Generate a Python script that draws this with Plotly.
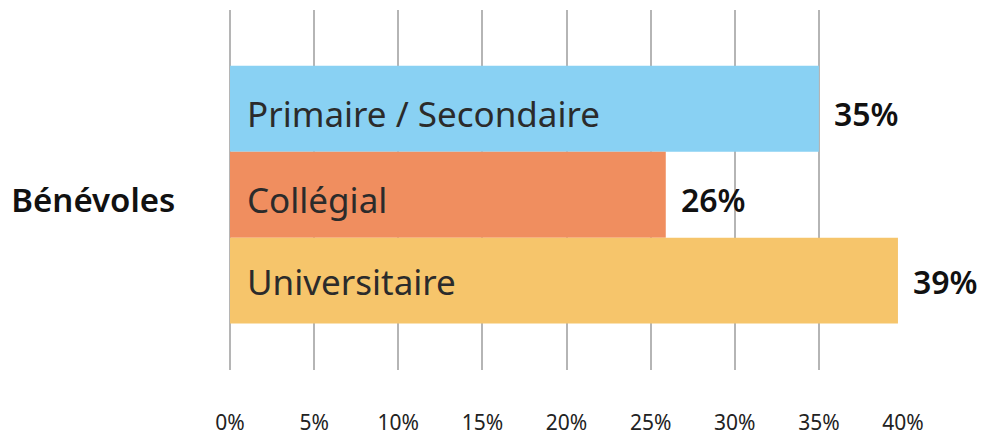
import plotly.graph_objects as go

categories = ["Primaire / Secondaire", "Collégial", "Universitaire"]
values = [35, 25.9, 39.7]
value_labels = ["35%", "26%", "39%"]
colors = ["#89D1F3", "#F08E5F", "#F6C56B"]
group_label = "Bénévoles"
positions = [2, 1, 0]
tick_vals = [0, 5, 10, 15, 20, 25, 30, 35, 40]
tick_text = ["0%", "5%", "10%", "15%", "20%", "25%", "30%", "35%", "40%"]

# small vertical nudges of the bar texts (pixels)
text_nudge = [-5, -5, -1]

font_family = "Noto Sans"

fig = go.Figure()
fig.add_trace(go.Bar(
    x=values, y=positions, orientation="h", width=1,
    marker=dict(color=colors, line=dict(width=0)),
    hoverinfo="skip",
))

for cat, val, lab, pos, dy in zip(categories, values, value_labels, positions, text_nudge):
    fig.add_annotation(x=0, y=pos, text=cat, showarrow=False, xanchor="left",
                       xshift=15, yshift=dy,
                       font=dict(family=font_family, size=35, color="#2B2B2B"))
    fig.add_annotation(x=val, y=pos, text=lab, showarrow=False, xanchor="left",
                       xshift=13, yshift=dy,
                       font=dict(family=font_family, size=32, weight=600, color="#111111"))

fig.update_layout(
    width=977, height=427,
    margin=dict(l=222, r=82, t=2, b=65, autoexpand=False),
    plot_bgcolor="white", paper_bgcolor="white",
    showlegend=False,
    xaxis=dict(range=[0, 40], tickvals=tick_vals, ticktext=tick_text, automargin=False,
               showgrid=True, gridcolor="#B5B5B5", gridwidth=2,
               zeroline=True, zerolinecolor="#B5B5B5", zerolinewidth=2,
               ticks="outside", ticklen=34, tickcolor="rgba(0,0,0,0)",
               tickfont=dict(family=font_family, size=21, color="#222222"),
               showline=False),
    yaxis=dict(range=[-1.04, 3.15], tickvals=[1], ticktext=[group_label], automargin=False,
               showgrid=False, zeroline=False, ticks="outside", ticklen=47,
               tickcolor="rgba(0,0,0,0)", ticklabelshift=6,
               tickfont=dict(family=font_family, size=33, weight=600, color="#111111")),
)

fig.write_html("out.html")
